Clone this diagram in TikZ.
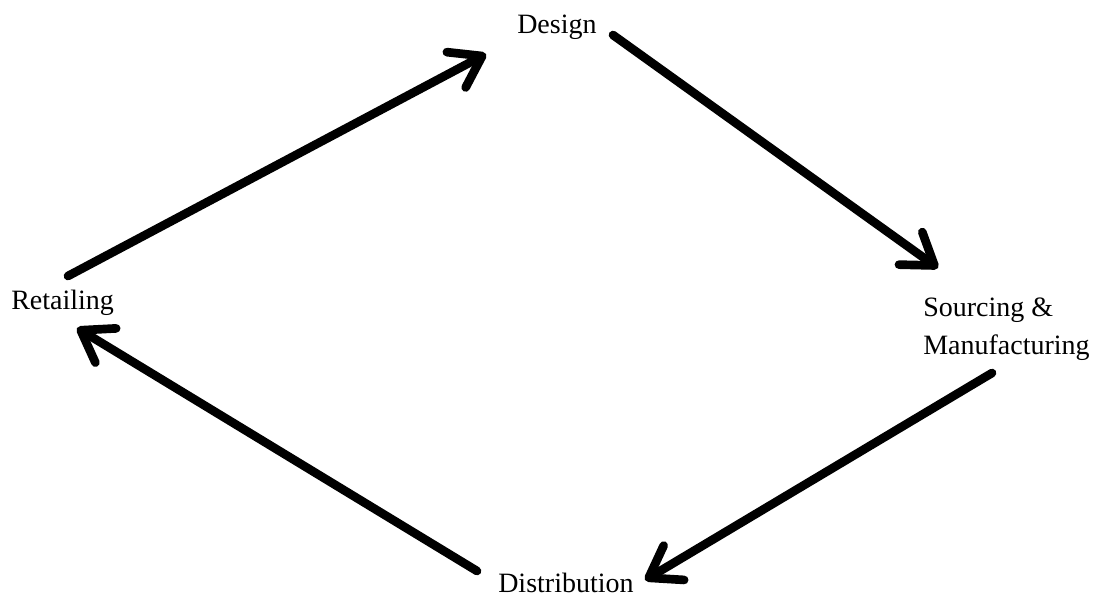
\documentclass[tikz,border=0pt]{standalone}
\usepackage{fontspec}
\setmainfont{Liberation Serif}
\usetikzlibrary{arrows.meta}
\begin{document}
\begin{tikzpicture}[x=0.75pt,y=-0.75pt,
  lbl/.style={inner sep=0pt, anchor=base west, font=\fontsize{21}{28.5}\selectfont},
  flow/.style={line width=6.5pt, line cap=round, line join=round,
    -{Straight Barb[length=22pt,width=30pt,line width=6.5pt,round]}}]
\useasboundingbox (0,0) rectangle (1099,597);
\node[lbl] (des) at (517,33) {Design};
\node[lbl, align=left] (src) at (923,354) {Sourcing \&\\Manufacturing};
\node[lbl] (dis) at (498,592) {Distribution};
\node[lbl] (ret) at (11,309) {Retailing};
\coordinate (a1s) at (68,276);  \coordinate (a1e) at (486,54);
\coordinate (a2s) at (613,35);  \coordinate (a2e) at (938,268);
\coordinate (a3s) at (992,373); \coordinate (a3e) at (645,580);
\coordinate (a4s) at (477,571); \coordinate (a4e) at (77,328);
\draw[flow] (a1s) -- (a1e);
\draw[flow] (a2s) -- (a2e);
\draw[flow] (a3s) -- (a3e);
\draw[flow] (a4s) -- (a4e);
\end{tikzpicture}
\end{document}
